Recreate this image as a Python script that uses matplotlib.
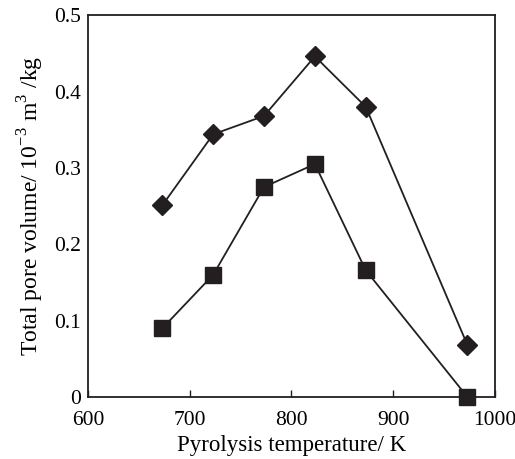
import matplotlib
matplotlib.use("Agg")
import matplotlib.pyplot as plt

# data
temps = [673, 723, 773, 823, 873, 973]
diamond_vals = [0.251, 0.344, 0.368, 0.446, 0.380, 0.068]
square_vals = [0.090, 0.160, 0.275, 0.305, 0.166, 0.0]
x_ticks = [600, 700, 800, 900, 1000]
y_ticks = [0, 0.1, 0.2, 0.3, 0.4, 0.5]
y_tick_labels = ["0", "0.1", "0.2", "0.3", "0.4", "0.5"]

plt.rcParams["font.family"] = "Liberation Serif"
plt.rcParams["mathtext.fontset"] = "custom"
plt.rcParams["mathtext.rm"] = "Liberation Serif"

ink = "#231f20"

fig = plt.figure(figsize=(5.15, 4.59), dpi=100)
ax = fig.add_axes([0.171, 0.135, 0.79, 0.832])

ax.plot(temps, diamond_vals, color=ink, lw=1.3, marker="D", ms=10.5,
        mfc=ink, mec=ink, clip_on=False, zorder=3)
ax.plot(temps, square_vals, color=ink, lw=1.3, marker="s", ms=12,
        mfc=ink, mec=ink, clip_on=False, zorder=3)

ax.set_xlim(600, 1000)
ax.set_ylim(0, 0.5)
ax.set_xticks(x_ticks)
ax.set_yticks(y_ticks)
ax.set_yticklabels(y_tick_labels)
ax.tick_params(axis="x", direction="in", length=5, width=1, color=ink,
               labelsize=15.5, pad=10)
ax.tick_params(axis="y", length=0, labelsize=15.5, pad=5)

for s in ax.spines.values():
    s.set_linewidth(1.3)
    s.set_color(ink)

ax.set_xlabel("Pyrolysis temperature/ K", fontsize=16.5, labelpad=4)
ax.set_ylabel(r"Total pore volume/ 10$^{-3}$ m$^{3}$ /kg", fontsize=17, labelpad=6)

fig.savefig("out.png", dpi=100)
